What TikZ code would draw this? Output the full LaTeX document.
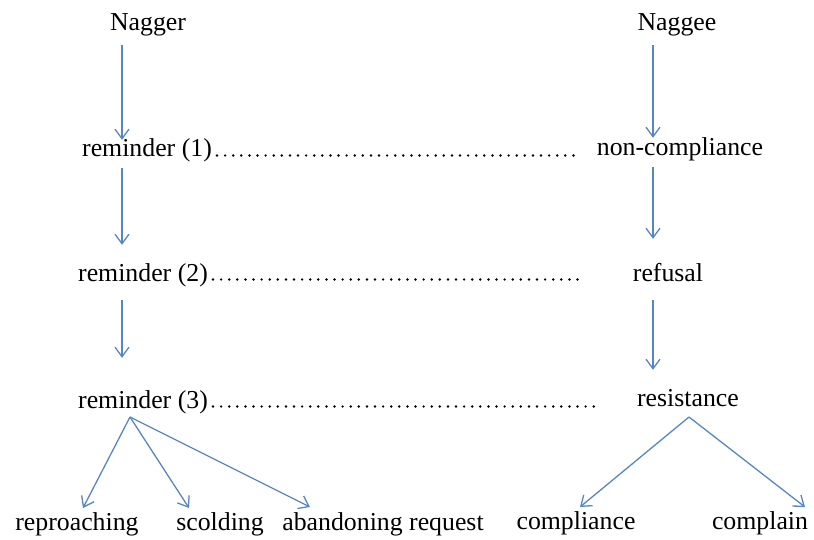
\documentclass[tikz,border=0pt]{standalone}
\usepackage{fontspec}
\setmainfont{Liberation Serif}
\usetikzlibrary{arrows.meta,calc}
\definecolor{arrblue}{RGB}{88,134,196}
\tikzset{
  lbl/.style={anchor=base, inner sep=0pt, text height=18pt, text depth=5pt, font=\fontsize{25.8}{30}\selectfont},
  arr/.style={draw=arrblue, line width=1.3pt, -{Straight Barb[length=9.5pt,width=14pt,line width=1.3pt]}},
  leader/.style={draw=black, line width=2.7pt, line cap=round, dash pattern=on 0pt off 8.1pt}
}
\begin{document}
\begin{tikzpicture}[x=1pt,y=-1pt]
\useasboundingbox (0,0) rectangle (814,540);
% nodes
\node[lbl] (nagger) at (148,31) {Nagger};
\node[lbl] (naggee) at (677,31) {Naggee};
\node[lbl] (r1) at (147,157) {reminder (1)};
\node[lbl] (nc) at (680,156) {non-compliance};
\node[lbl] (r2) at (143,281) {reminder (2)};
\node[lbl] (ref) at (668,281) {refusal};
\node[lbl] (r3) at (143,408) {reminder (3)};
\node[lbl] (res) at (688,406) {resistance};
\node[lbl] (rep) at (77,530) {reproaching};
\node[lbl] (sco) at (220,530) {scolding};
\node[lbl] (aba) at (383,530) {abandoning request};
\node[lbl] (com) at (576,529) {compliance};
\node[lbl] (cpl) at (760,529) {complain};
% arrow columns
\coordinate (ax) at (122,0);
\coordinate (bx) at (653,0);
% left column
\draw[arr] ($(nagger.south -| ax)+(0,9)$) -- ($(r1.north -| ax)+(0,1)$);
\draw[arr] ($(r1.south -| ax)+(0,6)$) -- ($(r2.north -| ax)+(0,-18)$);
\draw[arr] ($(r2.south -| ax)+(0,14)$) -- ($(r3.north -| ax)+(0,-32)$);
% right column
\draw[arr] ($(naggee.south -| bx)+(0,9)$) -- ($(nc.north -| bx)+(0,0)$);
\draw[arr] ($(nc.south -| bx)+(0,6)$) -- ($(ref.north -| bx)+(0,-24)$);
\draw[arr] ($(ref.south -| bx)+(0,14)$) -- ($(res.north -| bx)+(0,-18)$);
% fans
\draw[arr] ($(r3.base)+(-13,9)$) -- ($(rep.base)+(6,-22)$);
\draw[arr] ($(r3.base)+(-13,9)$) -- ($(sco.base)+(-31,-22)$);
\draw[arr] ($(r3.base)+(-13,9)$) -- ($(aba.base)+(-73,-23)$);
\draw[arr] ($(res.base)+(1,11)$) -- ($(com.base)+(4,-22)$);
\draw[arr] ($(res.base)+(1,11)$) -- ($(cpl.base)+(45,-22)$);
% dotted leaders
\draw[leader] ([xshift=5pt,yshift=1.5pt]r1.base east) -- ([xshift=-19pt,yshift=1.5pt]r1.base east -| nc.west);
\draw[leader] ([xshift=5pt,yshift=1.5pt]r2.base east) -- ([xshift=-48pt,yshift=1.5pt]r2.base east -| ref.west);
\draw[leader] ([xshift=5pt,yshift=1.5pt]r3.base east) -- ([xshift=-43pt,yshift=1.5pt]r3.base east -| res.west);
\end{tikzpicture}
\end{document}
